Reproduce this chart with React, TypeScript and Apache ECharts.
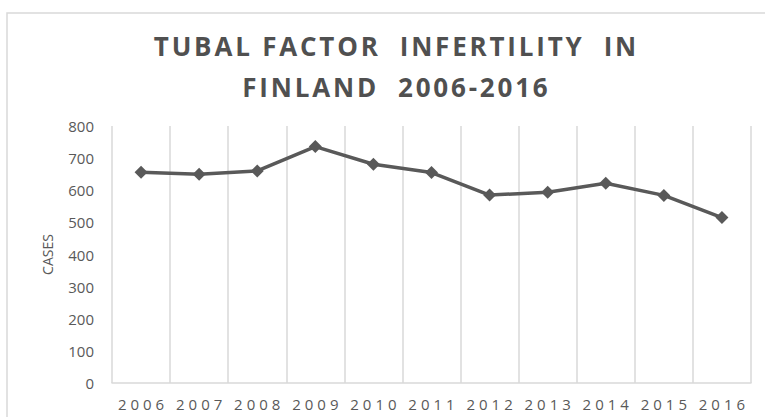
import React, { useEffect, useRef } from 'react';
import * as echarts from 'echarts';

const years = ['2006', '2007', '2008', '2009', '2010', '2011', '2012', '2013', '2014', '2015', '2016'];
const cases = [656, 650, 660, 736, 681, 655, 585, 594, 622, 584, 515];
const titleLines = ['TUBAL FACTOR  INFERTILITY  IN', 'FINLAND  2006-2016'];
const yAxisName = 'CASES';

export default function App() {
  const ref = useRef<HTMLDivElement>(null);
  useEffect(() => {
    document.body.style.margin = '0';
    const chart = echarts.init(ref.current!, null, { renderer: 'svg' });
    const font = '"Open Sans", "Noto Sans", sans-serif';
    chart.setOption({
      animation: false,
      backgroundColor: '#ffffff',
      title: {
        text: titleLines.join('\n'),
        left: 390,
        top: 20,
        textAlign: 'center',
        textStyle: {
          fontFamily: font,
          fontSize: 26,
          fontWeight: 'bold',
          color: '#505050',
          lineHeight: 41,
        },
      },
      graphic: [
        {
          type: 'rect',
          shape: { x: 7, y: 13, width: 800, height: 450 },
          style: { fill: 'none', stroke: '#d9d9d9', lineWidth: 1.5 },
          silent: true,
        },
      ],
      grid: { left: 112, right: 14, top: 126, bottom: 34 },
      xAxis: {
        type: 'category',
        data: years,
        boundaryGap: true,
        axisLine: { show: true, lineStyle: { color: '#d9d9d9', width: 1.5 } },
        axisTick: { show: false },
        axisLabel: { fontFamily: font, fontSize: 15, color: '#595959', margin: 13 },
        splitLine: { show: true, interval: 0, lineStyle: { color: '#d9d9d9', width: 1.5 } },
      },
      yAxis: {
        type: 'value',
        min: 0,
        max: 800,
        interval: 100,
        name: yAxisName,
        nameLocation: 'middle',
        nameGap: 58,
        nameTextStyle: { fontFamily: font, fontSize: 14, color: '#595959' },
        axisLine: { show: false },
        axisTick: { show: false },
        axisLabel: { fontFamily: font, fontSize: 15, color: '#595959', margin: 18 },
        splitLine: { show: false },
      },
      series: [
        {
          type: 'line',
          data: cases,
          symbol: 'diamond',
          symbolSize: 13,
          itemStyle: { color: '#595959' },
          lineStyle: { color: '#595959', width: 3.5 },
        },
      ],
    });
    const svg = ref.current!.querySelector('svg');
    if (svg) {
      svg.querySelectorAll('text').forEach((t) => {
        const s = (t.textContent || '').trim();
        let ls = 0;
        if (years.includes(s)) ls = 4;
        else if (titleLines.some((l) => l.trim() === s || l.replace(/\s+/g, ' ') === s.replace(/\s+/g, ' '))) ls = 2.8;
        if (ls) {
          t.setAttribute('letter-spacing', String(ls));
          const anchor = t.getAttribute('text-anchor');
          if (anchor === 'middle') t.setAttribute('dx', String(ls / 2));
          t.setAttribute('xml:space', 'preserve');
          t.style.whiteSpace = 'pre';
        }
      });
    }
    return () => chart.dispose();
  }, []);
  return <div ref={ref} style={{ width: 765, height: 417 }} />;
}
